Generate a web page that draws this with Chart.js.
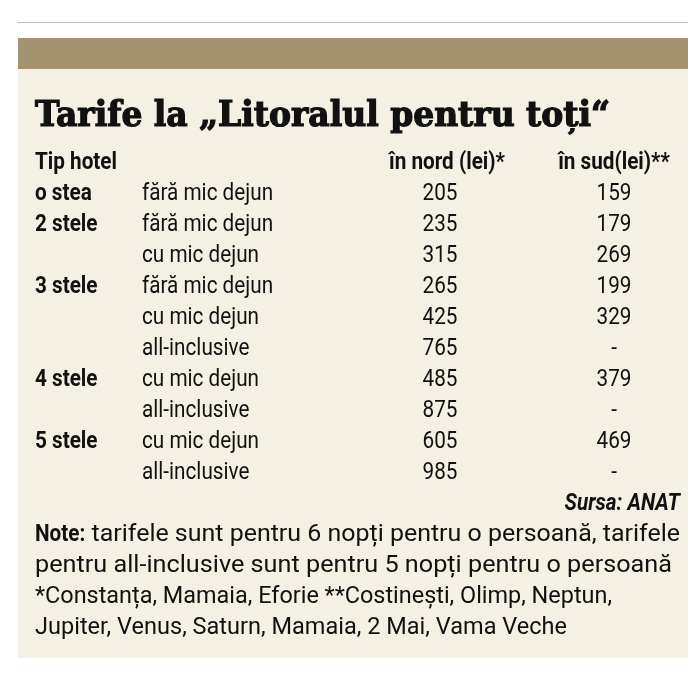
<!DOCTYPE html>
<html><head><meta charset="utf-8">
<script src="https://cdn.jsdelivr.net/npm/chart.js@4/dist/chart.umd.min.js"></script>
<style>html,body{margin:0;padding:0;background:#fff}</style>
</head><body>
<canvas id="c" width="700" height="677"></canvas>
<script>
const title = "Tarife la „Litoralul pentru toți“";
const headers = ["Tip hotel", "în nord (lei)*", "în sud(lei)**"];
const hotelTypes = ["o stea", "2 stele", "", "3 stele", "", "", "4 stele", "", "5 stele", ""];
const mealPlans = ["fără mic dejun", "fără mic dejun", "cu mic dejun", "fără mic dejun", "cu mic dejun", "all-inclusive", "cu mic dejun", "all-inclusive", "cu mic dejun", "all-inclusive"];
const northPrices = [205, 235, 315, 265, 425, 765, 485, 875, 605, 985];
const southPrices = ["159", "179", "269", "199", "329", "-", "379", "-", "469", "-"];
const source = "Sursa: ANAT";
const notes = [
  ["Note:", " tarifele sunt pentru 6 nopți pentru o persoană, tarifele"],
  ["", "pentru all-inclusive sunt pentru 5 nopți pentru o persoană"],
  ["", "*Constanța, Mamaia, Eforie **Costinești, Olimp, Neptun,"],
  ["", "Jupiter, Venus, Saturn, Mamaia, 2 Mai, Vama Veche"]
];
const noteWidths = [645, 637, 577, 532];
const rowKeys = mealPlans.map((m, i) => String(i));

const F = '"Roboto", "Liberation Sans", sans-serif';
const SX = 0.9;
function fitText(ctx, t, x, y, w) {
  const m = ctx.measureText(t).width;
  ctx.save(); ctx.translate(x, y); ctx.scale(w / m, 1); ctx.fillText(t, 0, 0); ctx.restore();
}
function cond(ctx, t, x, y, align) {
  const w = ctx.measureText(t).width * SX;
  const x0 = align === 'center' ? x - w / 2 : align === 'right' ? x - w : x;
  ctx.save(); ctx.textAlign = 'left'; ctx.translate(x0, y); ctx.scale(SX, 1); ctx.fillText(t, 0, 0); ctx.restore();
}
const tablePlugin = {
  id: 'tbl',
  beforeDraw(chart) {
    const ctx = chart.ctx;
    ctx.save();
    ctx.fillStyle = '#fff'; ctx.fillRect(0, 0, 700, 677);
    ctx.fillStyle = '#bdbdbd'; ctx.fillRect(18, 22, 670, 1);
    ctx.fillStyle = '#a39371'; ctx.fillRect(18, 38, 670, 31);
    ctx.fillStyle = '#f4f0e4'; ctx.fillRect(18, 69, 670, 589);
    ctx.restore();
  },
  afterDraw(chart) {
    const ctx = chart.ctx, y = chart.scales.y;
    ctx.save();
    ctx.fillStyle = '#111'; ctx.strokeStyle = '#111';
    ctx.textBaseline = 'middle';
    ctx.font = 'bold 36px "DejaVu Serif Condensed", "DejaVu Serif", serif';
    const m = ctx.measureText(title).width;
    ctx.save(); ctx.translate(35, 117); ctx.scale(575 / m, 1); ctx.lineWidth = 1.2; ctx.fillText(title, 0, 0); ctx.strokeText(title, 0, 0); ctx.restore();
    const step = y.getPixelForValue(1) - y.getPixelForValue(0);
    const hy = y.getPixelForValue(0) - step;
    ctx.font = 'bold 23px ' + F;
    cond(ctx, headers[0], 35, hy, 'left');
    cond(ctx, headers[1], 447, hy, 'center');
    cond(ctx, headers[2], 614, hy, 'center');
    rowKeys.forEach((k, i) => {
      const py = y.getPixelForValue(i);
      ctx.font = 'bold 23px ' + F;
      if (hotelTypes[i]) cond(ctx, hotelTypes[i], 35, py, 'left');
      ctx.font = '23px ' + F;
      cond(ctx, mealPlans[i], 142, py, 'left');
      cond(ctx, String(northPrices[i]), 440, py, 'center');
      cond(ctx, southPrices[i], 614, py, 'center');
    });
    const last = y.getPixelForValue(rowKeys.length - 1);
    ctx.font = 'italic bold 23px ' + F;
    cond(ctx, source, 680, last + step, 'right');
    ctx.textAlign = 'left';
    notes.forEach((n, i) => {
      const py = last + step * (2 + i);
      ctx.font = 'bold 23px ' + F;
      const w = n[0] ? ctx.measureText(n[0]).width * SX : 0;
      if (n[0]) cond(ctx, n[0], 35, py, 'left');
      ctx.font = '23px ' + F;
      fitText(ctx, n[1], 35 + w, py, noteWidths[i] - w);
    });
    ctx.restore();
  }
};

new Chart(document.getElementById('c'), {
  type: 'bar',
  data: { labels: rowKeys, datasets: [{ data: northPrices, backgroundColor: 'rgba(0,0,0,0)' }] },
  options: {
    indexAxis: 'y', responsive: false, animation: false,
    layout: { padding: { top: 178.5, bottom: 188.5, left: 0, right: 0 } },
    plugins: { legend: { display: false }, tooltip: { enabled: false } },
    scales: { y: { display: false }, x: { display: false, min: 0, max: 1000 } }
  },
  plugins: [tablePlugin]
});
</script>
</body></html>
